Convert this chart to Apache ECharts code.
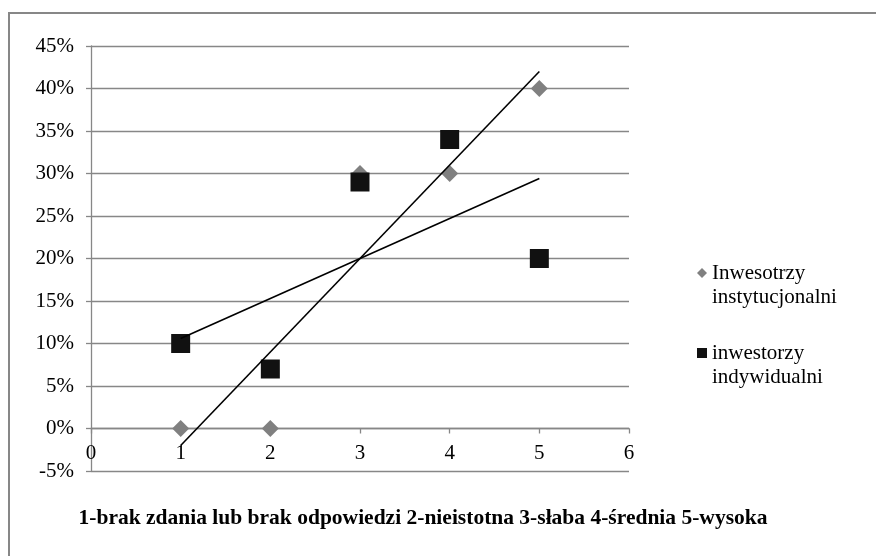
<!DOCTYPE html>
<html><head><meta charset="utf-8">
<script src="https://cdn.jsdelivr.net/npm/echarts@6/dist/echarts.min.js"></script>
<style>html,body{margin:0;padding:0;background:#fff}#c{width:876px;height:556px}</style>
</head><body><div id="c"></div>
<script>
// ---- data ----
const ratings = [1, 2, 3, 4, 5];
const seriesNames = ['Inwesotrzy instytucjonalni', 'inwestorzy indywidualni'];
const institutional = [0, 0, 30, 30, 40];
const individual = [10, 7, 29, 34, 20];
const xTickRange = [0, 6];
const yTickRange = [-5, 45];
const footnote = '1-brak zdania lub brak odpowiedzi 2-nieistotna 3-słaba 4-średnia 5-wysoka';

// linear least-squares trend line, evaluated at the first and last rating
function trend(xs, ys) {
  const n = xs.length;
  const mx = xs.reduce((a, b) => a + b, 0) / n;
  const my = ys.reduce((a, b) => a + b, 0) / n;
  let sxy = 0, sxx = 0;
  for (let i = 0; i < n; i++) { sxy += (xs[i] - mx) * (ys[i] - my); sxx += (xs[i] - mx) ** 2; }
  const b = sxy / sxx, a = my - b * mx;
  return [[xs[0], a + b * xs[0]], [xs[n - 1], a + b * xs[n - 1]]];
}
const pts = (xs, ys) => xs.map((x, i) => [x, ys[i]]);

const FONT = "'Liberation Serif','Times New Roman',serif";
const GRID = { left: 91, right: 247, top: 46, bottom: 85 };
const plotH = 556 - GRID.top - GRID.bottom;
// move the x axis (line, ticks, labels) up to the 0% level
const zeroOffset = -plotH * (0 - yTickRange[0]) / (yTickRange[1] - yTickRange[0]);

const chart = echarts.init(document.getElementById('c'), null, { renderer: 'canvas' });
chart.setOption({
  animation: false,
  backgroundColor: '#fff',
  grid: GRID,
  xAxis: {
    type: 'value', min: xTickRange[0], max: xTickRange[1], interval: 1,
    offset: zeroOffset,
    axisLine: { onZero: false, lineStyle: { color: '#878787', width: 1.3 } },
    axisTick: { show: true, length: 5, lineStyle: { color: '#878787', width: 1.3 } },
    axisLabel: { margin: 14, color: '#000', fontSize: 21, fontFamily: FONT },
    splitLine: { show: false }
  },
  yAxis: {
    type: 'value', min: yTickRange[0], max: yTickRange[1], interval: 5,
    axisLine: { show: true, lineStyle: { color: '#878787', width: 1.3 } },
    axisTick: { show: true, length: 5, lineStyle: { color: '#878787', width: 1.3 } },
    axisLabel: { margin: 17, color: '#000', fontSize: 21, fontFamily: FONT, formatter: '{value}%' },
    splitLine: { show: true, lineStyle: { color: '#878787', width: 1.3 } }
  },
  legend: {
    orient: 'vertical', left: 692, top: 232, itemWidth: 10, itemHeight: 10, itemGap: 8,
    data: [{ name: seriesNames[0], icon: 'diamond' }, { name: seriesNames[1], icon: 'rect' }],
    formatter: n => ' \n' + n.replace(' ', '\n'),
    textStyle: { fontSize: 21, lineHeight: 24, color: '#000', fontFamily: FONT },
    selectedMode: false
  },
  graphic: [
    { type: 'rect', shape: { x: 9, y: 13, width: 900, height: 600 }, style: { fill: 'none', stroke: '#878787', lineWidth: 2 }, silent: true, z: -1 },
    { type: 'text', x: 423, y: 518, style: { text: footnote, font: "bold 21.5px 'Liberation Serif','Times New Roman',serif", fill: '#000', textAlign: 'center', textVerticalAlign: 'middle' } }
  ],
  series: [
    { name: seriesNames[0], type: 'scatter', symbol: 'diamond', symbolSize: 17, itemStyle: { color: '#808080', opacity: 1 }, data: pts(ratings, institutional), z: 2 },
    { name: seriesNames[1], type: 'scatter', symbol: 'rect', symbolSize: 19, itemStyle: { color: '#111', opacity: 1 }, data: pts(ratings, individual), z: 2 },
    { name: 'trend1', type: 'line', data: trend(ratings, institutional), symbol: 'none', lineStyle: { color: '#000', width: 1.6 }, silent: true, z: 3 },
    { name: 'trend2', type: 'line', data: trend(ratings, individual), symbol: 'none', lineStyle: { color: '#000', width: 1.6 }, silent: true, z: 3 }
  ]
});
</script></body></html>
